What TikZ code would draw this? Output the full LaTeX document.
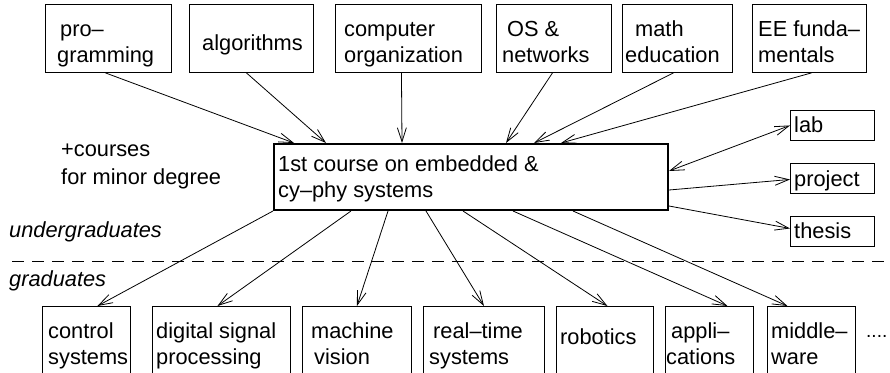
\documentclass[tikz,border=0pt]{standalone}
\usepackage{fontspec}
\setmainfont{Liberation Sans}
\usetikzlibrary{arrows.meta}
% fixed height for the first line of every label, so labels can be placed by baseline
\newcommand\fl{\rule{0pt}{16pt}}
\begin{document}
\begin{tikzpicture}[x=1pt,y=-1pt,
  font=\fontsize{21.8pt}{26pt}\selectfont,
  box/.style={draw, line width=0.9pt, inner sep=0pt, anchor=north west},
  txt/.style={anchor=north west, inner sep=0pt, align=left},
  tip/.style={-{Straight Barb[length=14pt,width=9pt]}, line width=0.8pt},
  both/.style={{Straight Barb[length=14pt,width=9pt]}-{Straight Barb[length=14pt,width=9pt]}, line width=0.8pt}
]
\useasboundingbox (0,0) rectangle (890,372);

% prerequisite courses
\node[box, minimum width=126pt, minimum height=68pt] (prog) at (45,4) {};
\node[box, minimum width=124pt, minimum height=68pt] (algo) at (189,4) {};
\node[box, minimum width=146pt, minimum height=68pt] (comp) at (335,4) {};
\node[box, minimum width=115pt, minimum height=68pt] (os)   at (496,4) {};
\node[box, minimum width=110pt, minimum height=68pt] (math) at (622,4) {};
\node[box, minimum width=114pt, minimum height=68pt] (ee)   at (752,4) {};
\node[txt] (prog-t) at (57,20.5)  {\hspace*{3pt}\fl pro--\\gramming};
\node[txt] (algo-t) at (202,33.8) {\fl algorithms};
\node[txt] (comp-t) at (344,20.5) {\fl computer\\organization};
\node[txt] (os-t)   at (502,20.5) {\hspace*{5pt}\fl OS \&\\networks};
\node[txt] (math-t) at (625,20.5) {\hspace*{10pt}\fl math\\education};
\node[txt] (ee-t)   at (758,20.5) {\fl EE funda--\\mentals};

% the first course
\node[box, line width=2pt, minimum width=394pt, minimum height=66pt] (core) at (273,143) {};
\node[txt] (core-t) at (278,155.5) {\fl 1st course on embedded \&\\cy--phy systems};

% lab, project, thesis
\node[box, minimum width=84pt, minimum height=30pt] (lab)     at (790,110) {};
\node[box, minimum width=84pt, minimum height=30pt] (project) at (790,163) {};
\node[box, minimum width=84pt, minimum height=30pt] (thesis)  at (790,216) {};
\node[txt] (lab-t)     at (794,116.5) {\fl lab};
\node[txt] (project-t) at (794,170)   {\fl project};
\node[txt] (thesis-t)  at (794,222)   {\fl thesis};

% side notes
\node[txt] (courses) at (61,140) {\fl +courses};
\node[txt] (minor)   at (61,168) {\fl for minor degree};
\node[txt] (ugrad)   at (9,221.5) {\fl\itshape undergraduates};
\node[txt] (grad)    at (9,270)   {\fl\itshape graduates};

% level separator
\coordinate (dl) at (12,261);
\coordinate (dr) at (886,261);
\draw[line width=0.8pt, dash pattern=on 12pt off 8pt] (dl) -- (dr);

% graduate courses
\node[box, minimum width=88pt,  minimum height=66.5pt] (control) at (42,306) {};
\node[box, minimum width=138pt, minimum height=66.5pt] (dsp)     at (152,306) {};
\node[box, minimum width=109pt, minimum height=66.5pt] (mv)      at (302,306) {};
\node[box, minimum width=121pt, minimum height=66.5pt] (rt)      at (423,306) {};
\node[box, minimum width=97pt,  minimum height=66.5pt] (rob)     at (556,306) {};
\node[box, minimum width=88pt,  minimum height=66.5pt] (app)     at (665,306) {};
\node[box, minimum width=88pt,  minimum height=66.5pt] (mid)     at (767,306) {};
\node[txt] (control-t) at (48,322)  {\fl control\\systems};
\node[txt] (dsp-t)     at (156,322) {\fl digital signal\\processing};
\node[txt] (mv-t)      at (311,322) {\fl machine\\\hspace*{3pt}vision};
\node[txt] (rt-t)      at (429,322) {\hspace*{4pt}\fl real--time\\systems};
\node[txt] (rob-t)     at (560,328) {\fl robotics};
\node[txt] (app-t)     at (666,322) {\hspace*{5pt}\fl appli--\\cations};
\node[txt] (mid-t)     at (771,322) {\fl middle--\\ware};
\node[txt, font=\fontsize{19pt}{22pt}\selectfont] (more) at (866,321) {\fl ....};

% prerequisites into the first course
\draw[tip] ([xshift=-3pt]prog.south)  -- ([xshift=-177pt]core.north);
\draw[tip] ([xshift=-5pt]algo.south)  -- ([xshift=-145pt]core.north);
\draw[tip] ([xshift=-7pt]comp.south)  -- ([xshift=-69pt]core.north);
\draw[tip] ([xshift=-1.5pt]os.south)  -- ([xshift=35pt]core.north);
\draw[tip] ([xshift=-4pt]math.south)  -- ([xshift=63pt]core.north);
\draw[tip] ([xshift=2pt]ee.south)     -- ([xshift=90pt]core.north);

% first course to lab, project, thesis
\draw[both] ([yshift=6pt]core.east)   -- (lab.west);
\draw[tip]  ([yshift=-13pt]core.east) -- ([yshift=-1pt]project.west);
\draw[tip]  ([yshift=-29pt]core.east) -- ([yshift=3pt]thesis.west);

% first course to graduate courses
\draw[tip] (core.south west)          -- ([xshift=11pt]control.north);
\draw[tip] ([xshift=-120pt]core.south) -- ([xshift=-4pt]dsp.north);
\draw[tip] ([xshift=-83pt]core.south)  -- (mv.north);
\draw[tip] ([xshift=-45pt]core.south)  -- (rt.north);
\draw[tip] ([xshift=-8pt]core.south)   -- ([xshift=2.5pt]rob.north);
\draw[tip] ([xshift=42pt]core.south)   -- ([xshift=18pt]app.north);
\draw[tip] ([xshift=102pt]core.south)  -- ([xshift=-24pt]mid.north);
\end{tikzpicture}
\end{document}
